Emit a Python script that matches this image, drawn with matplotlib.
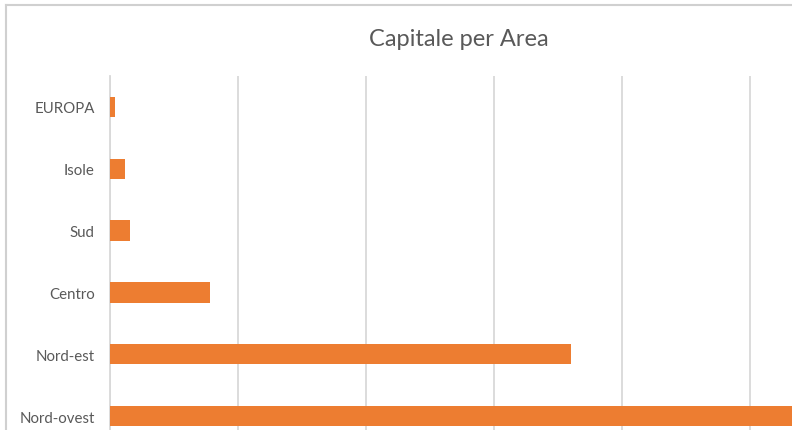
import matplotlib.pyplot as plt
from matplotlib.lines import Line2D

# data (units = one gridline step)
areas = ["EUROPA", "Isole", "Sud", "Centro", "Nord-est", "Nord-ovest"]
capitale = [0.04, 0.12, 0.16, 0.78, 3.60, 6.00]

W, H = 792, 431
fig = plt.figure(figsize=(W / 100, H / 100), dpi=100)
plt.rcParams['font.family'] = ['Lato', 'DejaVu Sans']

# plot area runs off the right and bottom edge, as in the cropped screenshot
left, top, bottom_px = 110, 77, 448
right_px = W
ax = fig.add_axes([left / W, 1 - bottom_px / H, (right_px - left) / W, (bottom_px - top) / H])

ypos = list(range(len(areas)))
ax.barh(ypos, capitale, height=0.33, color="#ED7D31", zorder=3)

ax.set_ylim(len(areas) - 0.5, -0.5)
ax.set_xlim(0, (right_px - left) / 128)
ax.set_xticks([0, 1, 2, 3, 4, 5])
ax.set_xticklabels([])
ax.set_yticks(ypos)
ax.set_yticklabels(areas, fontsize=10.8, color="#595959")
ax.tick_params(axis="y", length=0, pad=11)
ax.tick_params(axis="x", length=0)
ax.grid(axis="x", color="#D9D9D9", linewidth=1.3, zorder=0)
for s in ["top", "right", "bottom"]:
    ax.spines[s].set_visible(False)
ax.spines["left"].set_color("#D9D9D9")
ax.spines["left"].set_linewidth(1.3)

fig.text(459 / W, 1 - 40 / H, "Capitale per Area", ha="center", va="center",
         fontsize=17, color="#595959")

# chart frame (top and left edges visible)
fig.add_artist(Line2D([6 / W, 1.0], [1 - 6 / H, 1 - 6 / H], color="#D0D0D0", linewidth=1.5))
fig.add_artist(Line2D([6 / W, 6 / W], [0, 1 - 6 / H], color="#D0D0D0", linewidth=1.5))

fig.savefig("out.png", dpi=100)
